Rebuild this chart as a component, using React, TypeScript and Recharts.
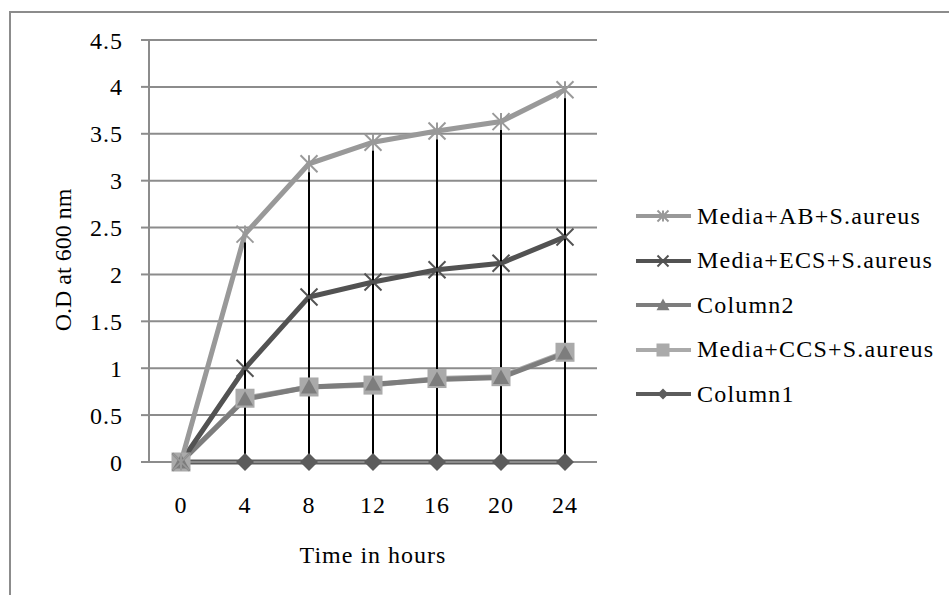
import React from 'react';
import {
  LineChart,
  Line,
  XAxis,
  YAxis,
  CartesianGrid,
  ReferenceLine,
  Legend,
  Label,
} from 'recharts';

// hours on the x axis
const HOURS = ['0', '4', '8', '12', '16', '20', '24'];

// O.D readings per series
const AB_VALUES = [0, 2.43, 3.18, 3.41, 3.53, 3.63, 3.97];
const ECS_VALUES = [0, 1.0, 1.76, 1.92, 2.05, 2.12, 2.4];
const COLUMN2_VALUES = [0, 0.67, 0.8, 0.83, 0.88, 0.9, 1.16];
const CCS_VALUES = [0, 0.68, 0.8, 0.82, 0.89, 0.91, 1.17];
const COLUMN1_VALUES = [0, 0, 0, 0, 0, 0, 0];

const Y_TICKS = [0, 0.5, 1, 1.5, 2, 2.5, 3, 3.5, 4, 4.5];

const FONT = '"Liberation Serif", "Times New Roman", serif';
const GRID = '#8c8c8c';

type MarkerType = 'asterisk' | 'cross' | 'triangle' | 'square' | 'diamond';

interface Series {
  key: string;
  name: string;
  values: number[];
  color: string;
  marker: MarkerType;
}

// legend order
const SERIES: Series[] = [
  { key: 'ab', name: 'Media+AB+S.aureus', values: AB_VALUES, color: '#999999', marker: 'asterisk' },
  { key: 'ecs', name: 'Media+ECS+S.aureus', values: ECS_VALUES, color: '#525252', marker: 'cross' },
  { key: 'col2', name: 'Column2', values: COLUMN2_VALUES, color: '#7d7d7d', marker: 'triangle' },
  { key: 'ccs', name: 'Media+CCS+S.aureus', values: CCS_VALUES, color: '#aaaaaa', marker: 'square' },
  { key: 'col1', name: 'Column1', values: COLUMN1_VALUES, color: '#5c5c5c', marker: 'diamond' },
];

// drawing order (last on top)
const DRAW_ORDER = ['col1', 'ccs', 'col2', 'ecs', 'ab'];

const data = HOURS.map((hour, i) => {
  const row: Record<string, string | number> = { hour };
  SERIES.forEach(s => {
    row[s.key] = s.values[i];
  });
  return row;
});

const dropTops = HOURS.map((_, i) => Math.max(...SERIES.map(s => s.values[i])));

function Marker({ type, cx, cy, color, size }: { type: MarkerType; cx: number; cy: number; color: string; size: number }) {
  const h = size / 2;
  switch (type) {
    case 'asterisk':
      return (
        <g stroke={color} strokeWidth={2}>
          <line x1={cx - h} y1={cy - h} x2={cx + h} y2={cy + h} />
          <line x1={cx - h} y1={cy + h} x2={cx + h} y2={cy - h} />
          <line x1={cx} y1={cy - h} x2={cx} y2={cy + h} />
        </g>
      );
    case 'cross':
      return (
        <g stroke={color} strokeWidth={2}>
          <line x1={cx - h} y1={cy - h} x2={cx + h} y2={cy + h} />
          <line x1={cx - h} y1={cy + h} x2={cx + h} y2={cy - h} />
        </g>
      );
    case 'triangle':
      return <polygon points={`${cx},${cy - h} ${cx + h},${cy + h * 0.8} ${cx - h},${cy + h * 0.8}`} fill={color} />;
    case 'square':
      return <rect x={cx - h} y={cy - h} width={size} height={size} fill={color} />;
    case 'diamond':
      return <polygon points={`${cx},${cy - h} ${cx + h},${cy} ${cx},${cy + h} ${cx - h},${cy}`} fill={color} />;
  }
  return null;
}

const dotSizes: Record<MarkerType, number> = {
  asterisk: 17,
  cross: 17,
  triangle: 16,
  square: 19,
  diamond: 18,
};

function makeDot(s: Series) {
  return (props: { cx?: number; cy?: number; index?: number }) => (
    <Marker
      key={`${s.key}-${props.index}`}
      type={s.marker}
      cx={props.cx ?? 0}
      cy={props.cy ?? 0}
      color={s.color}
      size={dotSizes[s.marker]}
    />
  );
}

function LegendBox() {
  return (
    <div style={{ fontFamily: FONT, fontSize: 24, letterSpacing: 1.2, color: '#000' }}>
      {SERIES.map(s => (
        <div key={s.key} style={{ display: 'flex', alignItems: 'center', height: 44.5 }}>
          <svg width={58} height={24} style={{ marginRight: 4 }}>
            <line x1={1} y1={12} x2={56} y2={12} stroke={s.color} strokeWidth={4} />
            <Marker type={s.marker} cx={28} cy={12} color={s.color} size={s.marker === 'square' || s.marker === 'triangle' ? 13 : 11} />
          </svg>
          <span>{s.name}</span>
        </div>
      ))}
    </div>
  );
}

const tickStyle = { fill: '#000', fontSize: 24, fontFamily: FONT, letterSpacing: 1 };

export default function App() {
  return (
    <div style={{ position: 'absolute', left: 0, top: 0, width: 949, height: 595, background: '#fff' }}>
      <div
        style={{
          position: 'absolute',
          left: 9,
          top: 11,
          width: 1000,
          height: 1000,
          borderTop: `2px solid ${GRID}`,
          borderLeft: `2px solid ${GRID}`,
        }}
      />
      <div style={{ position: 'absolute', left: 0, top: 0 }}>
        <LineChart width={949} height={595} data={data} margin={{ top: 40, right: 352, bottom: 73, left: 0 }}>
          <CartesianGrid horizontal vertical={false} stroke={GRID} strokeWidth={2} />
          <XAxis
            dataKey="hour"
            height={60}
            padding={{ left: 32, right: 32 }}
            axisLine={{ stroke: GRID, strokeWidth: 2 }}
            tickLine={false}
            tickSize={0}
            tickMargin={34}
            tick={tickStyle}
            interval={0}
          >
            <Label
              content={() => (
                <text x={373} y={563} textAnchor="middle" fontFamily={FONT} fontSize={24} letterSpacing={1} fill="#000">
                  Time in hours
                </text>
              )}
            />
          </XAxis>
          <YAxis
            width={149}
            domain={[0, 4.5]}
            ticks={Y_TICKS}
            interval={0}
            axisLine={{ stroke: GRID, strokeWidth: 2 }}
            tickLine={{ stroke: GRID, strokeWidth: 2 }}
            tickSize={8}
            tickMargin={18}
            tick={tickStyle}
          >
            <Label
              content={() => (
                <text
                  x={71}
                  y={260}
                  transform="rotate(-90 71 260)"
                  textAnchor="middle"
                  fontFamily={FONT}
                  fontSize={24}
                  fill="#000"
                >
                  O.D at 600 nm
                </text>
              )}
            />
          </YAxis>
          {DRAW_ORDER.map(k => {
            const s = SERIES.find(x => x.key === k)!;
            return (
              <Line
                key={s.key}
                type="linear"
                dataKey={s.key}
                name={s.name}
                stroke={s.color}
                strokeWidth={5}
                dot={makeDot(s)}
                activeDot={false}
                isAnimationActive={false}
              />
            );
          })}
          {HOURS.map((h, i) =>
            dropTops[i] > 0 ? (
              <ReferenceLine
                key={`drop-${h}`}
                segment={[
                  { x: h, y: 0 },
                  { x: h, y: dropTops[i] },
                ]}
                stroke="#000"
                strokeWidth={2}
              />
            ) : null
          )}
          <Legend
            layout="vertical"
            align="center"
            verticalAlign="middle"
            content={() => <LegendBox />}
            wrapperStyle={{ left: 635, top: 194, width: 310 }}
          />
        </LineChart>
      </div>
    </div>
  );
}
